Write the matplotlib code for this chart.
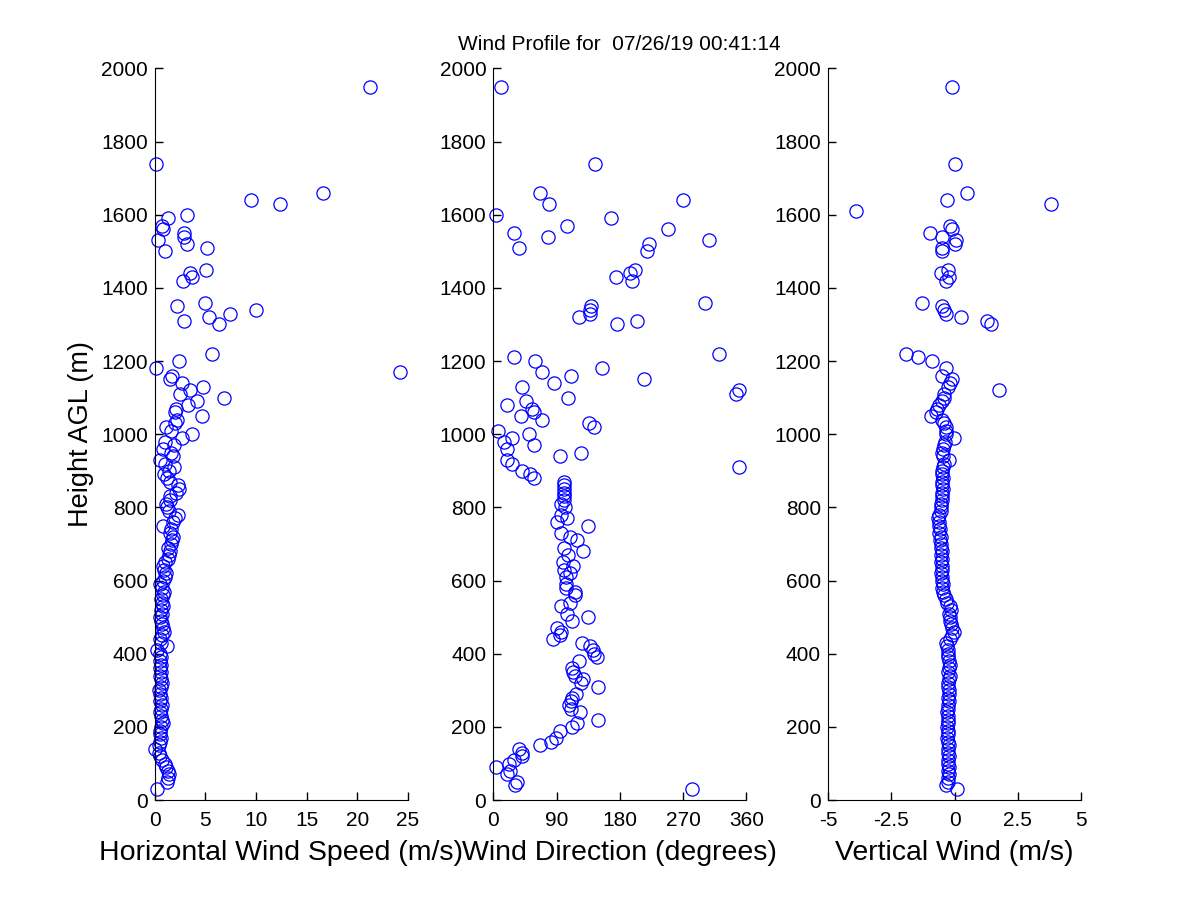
import numpy as np
import matplotlib
matplotlib.use("Agg")
import matplotlib.pyplot as plt

nan = np.nan

# measurement heights (m AGL)
heights = [30, 40, 50, 60, 70, 80, 90, 100, 110, 120,
           130, 140, 150, 160, 170, 180, 190, 200, 210, 220,
           230, 240, 250, 260, 270, 280, 290, 300, 310, 320,
           330, 340, 350, 360, 370, 380, 390, 400, 410, 420,
           430, 440, 450, 460, 470, 480, 490, 500, 510, 520,
           530, 540, 550, 560, 570, 580, 590, 600, 610, 620,
           630, 640, 650, 660, 670, 680, 690, 700, 710, 720,
           730, 740, 750, 760, 770, 780, 790, 800, 810, 820,
           830, 840, 850, 860, 870, 880, 890, 900, 910, 920,
           930, 940, 950, 960, 970, 980, 990, 1000, 1010, 1020,
           1030, 1040, 1050, 1060, 1070, 1080, 1090, 1100, 1110, 1120,
           1130, 1140, 1150, 1160, 1170, 1180, 1190, 1200, 1210, 1220,
           1300, 1310, 1320, 1330, 1340, 1350, 1360,
           1420, 1430, 1440, 1450,
           1500, 1510, 1520, 1530, 1540, 1550, 1560, 1570,
           1590, 1600, 1610, 1630, 1640, 1660, 1740, 1950]

# horizontal wind speed (m/s)
speed = [0.2, nan, 1.2, 1.3, 1.4, 1.3, 1.1, 1.0, 0.7, 0.5,
         0.4, 0.05, 0.4, 0.5, 0.6, 0.5, 0.5, 0.6, 0.8, 0.7,
         0.6, 0.5, 0.6, 0.7, 0.5, 0.6, 0.5, 0.4, 0.6, 0.7,
         0.6, 0.5, 0.6, 0.5, 0.6, 0.5, 0.6, 0.5, 0.2, 1.2,
         0.6, 0.5, 0.7, 0.9, 0.8, 0.7, 0.6, 0.5, 0.7, 0.6,
         0.8, 0.7, 0.6, 0.8, 0.9, 0.7, 0.5, 0.8, 1.0, 1.1,
         0.9, 0.8, 1.0, 1.3, 1.4, 1.5, 1.3, 1.6, 1.7, 1.8,
         1.5, 1.6, 0.8, 1.8, 2.0, 2.3, 1.4, 1.2, 1.1, 1.5,
         1.5, 2.1, 2.4, 2.3, 1.5, 1.2, 0.9, 1.4, 1.9, 1.0,
         0.5, 1.8, 1.6, 0.8, 1.9, 1.0, 2.7, 3.7, 1.6, 1.15,
         2.0, 2.2, 4.7, 2.0, 2.1, 3.3, 4.2, 6.85, 2.5, 3.5,
         4.8, 2.7, 1.55, 1.7, 24.2, 0.1, nan, 2.4, nan, 5.6,
         6.3, 2.9, 5.4, 7.4, 10.0, 2.2, 5.0,
         2.8, 3.7, 3.5, 5.1,
         1.0, 5.2, 3.2, 0.3, 2.9, 2.9, 0.8, 0.7,
         1.35, 3.2, nan, 12.4, 9.5, 16.6, 0.1, 21.2]

# wind direction (degrees)
direction = [282, 31, 34, nan, 20, 24, 4, 22, 29, 41,
             41, 37, 67, 82, 89, nan, 95, 112, 119, 149,
             nan, 123, 110, 108, 110, 112, 118, nan, 149, 125,
             128, 116, 114, 112, nan, 122, 147, 144, 142, 138,
             126, 85, 95, 96, 90, nan, 112, 135, 105, nan,
             97, 109, nan, 116, 117, 104, 104, nan, 104, 109,
             101, 113, 99, nan, 107, 128, 100, nan, 119, 109,
             97, nan, 135, 90, 105, 97, nan, 102, 97, 100,
             100, 100, 101, 101, 100, 58, 52, 41, 349, 27,
             20, 95, 125, 20, 58, 15, 27, 51, 7, 143,
             136, 70, 40, 58, 55, 20, 47, 106, 345, 350,
             41, 87, 214, 110, 70, 154, nan, 60, 29, 321,
             176, 205, 122, 138, 138, 139, 301,
             198, 174, 195, 202,
             219, 37, 222, 307, 78, 29, 249, 105,
             168, 4, nan, 80, 270, 67, 145, 11]

# vertical wind (m/s)
vertical = [0.08, -0.32, -0.25, -0.28, -0.22, -0.26, -0.24, -0.27, -0.25, -0.23,
            -0.26, -0.28, -0.24, -0.27, -0.3, -0.26, -0.28, -0.3, -0.27, -0.25,
            -0.28, -0.3, -0.27, -0.25, -0.22, -0.26, -0.24, -0.22, -0.25, -0.27,
            -0.24, -0.2, -0.25, -0.22, -0.2, -0.24, -0.27, -0.25, -0.28, -0.3,
            -0.34, -0.2, -0.1, -0.03, -0.1, -0.15, -0.2, -0.18, -0.22, -0.15,
            -0.2, -0.3, -0.35, -0.4, -0.45, -0.5, -0.45, -0.48, -0.5, -0.52,
            -0.5, -0.48, -0.52, -0.5, -0.55, -0.5, -0.53, -0.55, -0.58, -0.55,
            -0.6, -0.58, -0.62, -0.6, -0.65, -0.6, -0.55, -0.52, -0.55, -0.5,
            -0.48, -0.5, -0.45, -0.5, -0.48, -0.45, -0.5, -0.48, -0.45, -0.42,
            -0.24, -0.45, -0.5, -0.45, -0.4, -0.38, -0.03, -0.32, -0.35, -0.32,
            -0.4, -0.48, -0.93, -0.75, -0.69, -0.6, -0.48, -0.42, -0.4, 1.77,
            -0.25, -0.2, -0.1, -0.5, nan, -0.32, nan, -0.91, -1.45, -1.9,
            1.43, 1.27, 0.24, -0.32, -0.42, -0.48, -1.27,
            -0.34, -0.21, -0.53, -0.27,
            -0.48, -0.5, 0.03, 0.05, -0.48, -0.98, -0.1, -0.19,
            nan, nan, -3.9, 3.8, -0.3, 0.48, 0.0, -0.1]

title_text = "Wind Profile for  07/26/19 00:41:14"

plt.rcParams['font.family'] = ['Liberation Sans', 'DejaVu Sans']

fig = plt.figure(figsize=(12, 9), dpi=100)

panels = [
    (0.129, speed, (0, 25), [0, 5, 10, 15, 20, 25],
     ["0", "5", "10", "15", "20", "25"], "Horizontal Wind Speed (m/s)"),
    (0.411, direction, (0, 360), [0, 90, 180, 270, 360],
     ["0", "90", "180", "270", "360"], "Wind Direction (degrees)"),
    (0.690, vertical, (-5, 5), [-5, -2.5, 0, 2.5, 5],
     ["-5", "-2.5", "0", "2.5", "5"], "Vertical Wind (m/s)"),
]

axes = []
for left, vals, xlim, xticks, xtlabels, xlabel in panels:
    ax = fig.add_axes([left, 0.111, 0.211, 0.813])
    ax.plot(vals, heights, 'o', markerfacecolor='none', markeredgecolor=(0, 0, 1),
            markersize=9.5, markeredgewidth=0.9, linestyle='none', clip_on=False)
    ax.set_xlim(xlim)
    ax.set_ylim(0, 2000)
    ax.set_xticks(xticks)
    ax.set_xticklabels(xtlabels)
    ax.set_yticks(range(0, 2001, 200))
    ax.spines['top'].set_visible(False)
    ax.spines['right'].set_visible(False)
    ax.tick_params(direction='in', length=6, width=1, labelsize=15)
    ax.tick_params(axis='x', pad=8)
    ax.tick_params(axis='y', pad=5)
    ax.set_xlabel(xlabel, fontsize=20.5, labelpad=7)
    axes.append(ax)

axes[0].set_ylabel("Height AGL (m)", fontsize=19.5, labelpad=5)
axes[1].set_title(title_text, fontsize=15, pad=13)

plt.savefig("out.png", dpi=100)
